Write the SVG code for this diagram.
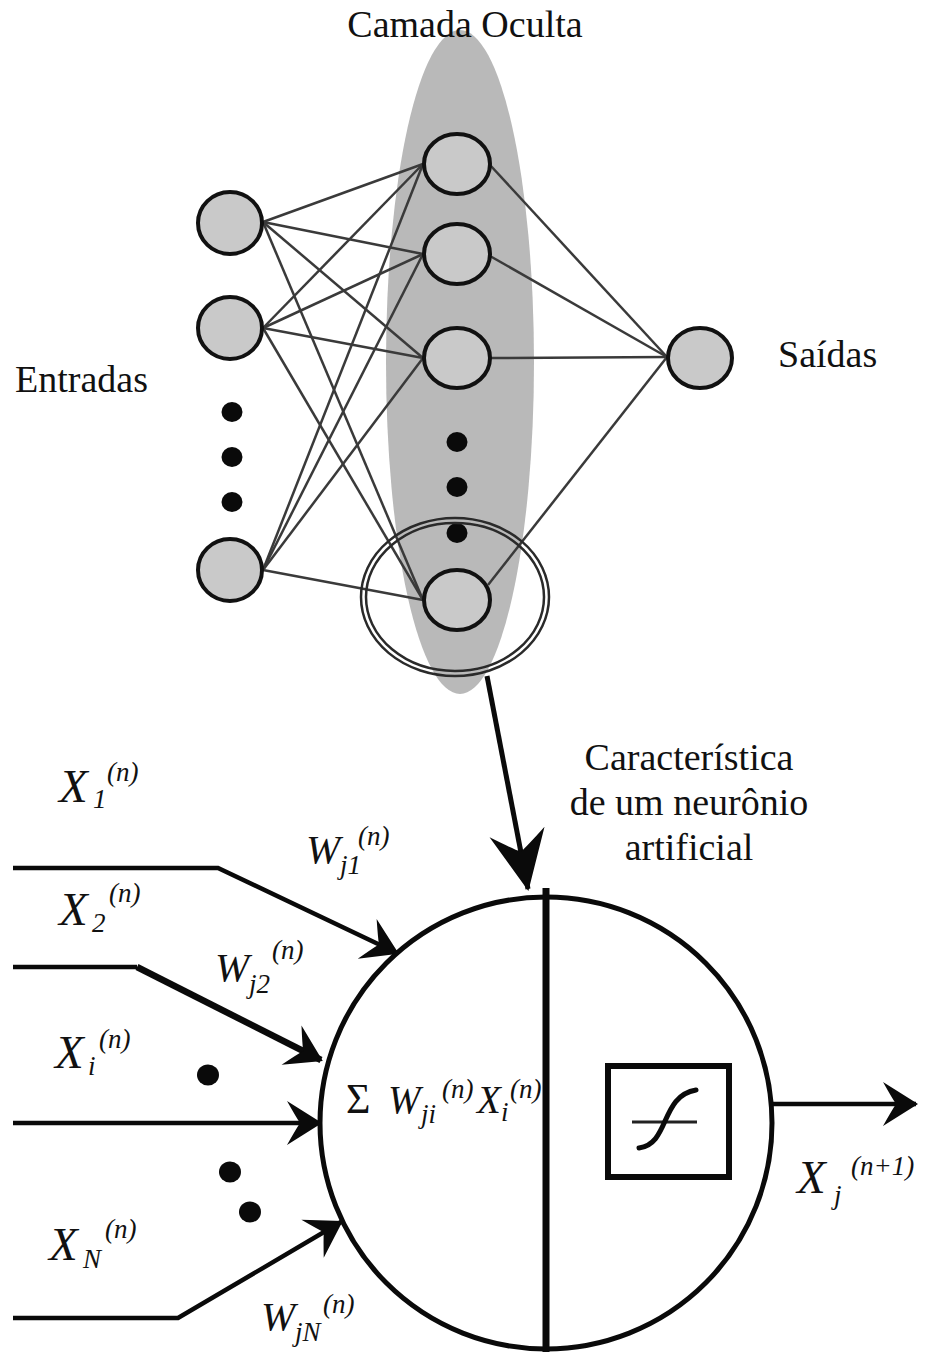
<svg xmlns="http://www.w3.org/2000/svg" width="927" height="1356" viewBox="0 0 927 1356">
<style>
.lbl{font-family:'Liberation Serif','DejaVu Serif',serif;fill:#111;font-size:38px}
.m{font-family:'Liberation Serif','DejaVu Serif',serif;fill:#111;font-style:italic}
.big{font-size:47px}
.mid{font-size:41px}
.sm{font-size:27px}
.edge{stroke:#3a3a3a;stroke-width:2.5;fill:none}
.node{fill:#c9c9c9;stroke:#111;stroke-width:4}
.dot{fill:#0a0a0a}
.wire{stroke:#0a0a0a;stroke-width:4.5;fill:none;stroke-linejoin:miter}
</style>
<defs>
<marker id="ah" markerUnits="userSpaceOnUse" orient="auto" overflow="visible" refX="0" refY="0" markerWidth="1" markerHeight="1">
<path d="M2,0 L-33,-22 Q-24,-6 -20,0 Q-24,6 -33,22 Z" fill="#0a0a0a"/>
</marker>
<marker id="ahb" markerUnits="userSpaceOnUse" orient="auto" overflow="visible" refX="0" refY="0" markerWidth="1" markerHeight="1">
<path d="M2,0 L-58,-28 Q-42,-7 -38,0 Q-42,7 -58,28 Z" fill="#0a0a0a"/>
</marker>
</defs>
<rect width="927" height="1356" fill="#ffffff"/>

<g id="hidden-layer-bg">
<ellipse cx="460" cy="362" rx="74" ry="332" fill="#b9b9b9"/>
</g>

<g id="connectors">
<g class="edge">
<line x1="263" y1="222" x2="423" y2="164"/>
<line x1="263" y1="222" x2="423" y2="254"/>
<line x1="263" y1="222" x2="423" y2="358"/>
<line x1="263" y1="222" x2="423" y2="600"/>
<line x1="263" y1="328" x2="423" y2="164"/>
<line x1="263" y1="328" x2="423" y2="254"/>
<line x1="263" y1="328" x2="423" y2="358"/>
<line x1="263" y1="328" x2="423" y2="600"/>
<line x1="263" y1="570" x2="423" y2="164"/>
<line x1="263" y1="570" x2="423" y2="254"/>
<line x1="263" y1="570" x2="423" y2="358"/>
<line x1="263" y1="570" x2="423" y2="600"/>
<line x1="490" y1="165" x2="667" y2="357"/>
<line x1="490" y1="256" x2="667" y2="357"/>
<line x1="490" y1="358" x2="667" y2="357"/>
<line x1="488" y1="585" x2="667" y2="357"/>
</g>
<line x1="487" y1="676" x2="528" y2="889" stroke="#0a0a0a" stroke-width="5" marker-end="url(#ahb)"/>
<polyline class="wire" points="13,868 218,868 397,953" marker-end="url(#ah)"/>
<polyline class="wire" points="13,967 137,967"/>
<line x1="137" y1="967" x2="321" y2="1060" stroke="#0a0a0a" stroke-width="6.5" marker-end="url(#ah)"/>
<line class="wire" x1="13" y1="1123" x2="320" y2="1123" marker-end="url(#ah)"/>
<polyline class="wire" points="13,1318 178,1318 341,1222" marker-end="url(#ah)"/>
<line class="wire" x1="772" y1="1104" x2="916" y2="1104" marker-end="url(#ah)"/>
</g>

<g id="input-nodes">
<ellipse class="node" cx="230" cy="223" rx="32" ry="31"/>
<ellipse class="node" cx="230" cy="328" rx="32" ry="31"/>
<ellipse class="node" cx="230" cy="570" rx="32" ry="31"/>
<ellipse class="dot" cx="232" cy="412" rx="10.5" ry="10"/>
<ellipse class="dot" cx="232" cy="457" rx="10.5" ry="10"/>
<ellipse class="dot" cx="232" cy="502" rx="10.5" ry="10"/>
</g>

<g id="hidden-nodes">
<ellipse class="node" cx="457" cy="164" rx="33" ry="30"/>
<ellipse class="node" cx="457" cy="254" rx="33" ry="30"/>
<ellipse class="node" cx="457" cy="358" rx="33" ry="30"/>
<ellipse class="node" cx="457" cy="600" rx="33" ry="30"/>
<ellipse class="dot" cx="457" cy="442" rx="10.5" ry="10"/>
<ellipse class="dot" cx="457" cy="487" rx="10.5" ry="10"/>
<ellipse class="dot" cx="457" cy="533" rx="10.5" ry="10"/>
</g>

<g id="output-node">
<ellipse class="node" cx="700" cy="358" rx="32" ry="30"/>
</g>

<g id="highlight-ring" fill="none" stroke="#2a2a2a" stroke-width="2.5">
<ellipse cx="455" cy="597" rx="94" ry="79"/>
<ellipse cx="455" cy="597" rx="89" ry="74"/>
</g>

<g id="labels-top">
<text class="lbl" x="465" y="37" text-anchor="middle">Camada Oculta</text>
<text class="lbl" x="15" y="392">Entradas</text>
<text class="lbl" x="778" y="367">Saídas</text>
<text class="lbl" x="689" y="770" text-anchor="middle">Característica</text>
<text class="lbl" x="689" y="815" text-anchor="middle">de um neurônio</text>
<text class="lbl" x="689" y="860" text-anchor="middle">artificial</text>
</g>

<g id="neuron">
<circle cx="546" cy="1123" r="226" fill="none" stroke="#0a0a0a" stroke-width="5"/>
<text class="lbl" x="346" y="1113" style="font-size:42px">Σ</text>
<text class="m" x="388" y="1113" style="font-size:39px">W</text>
<text class="m sm" x="421" y="1123">ji</text>
<text class="m sm" x="442" y="1098">(n)</text>
<text class="m" x="477" y="1113" style="font-size:39px">X</text>
<text class="m sm" x="501" y="1121">i</text>
<text class="m sm" x="510" y="1098">(n)</text>
<line x1="546" y1="888" x2="546" y2="1352" stroke="#0a0a0a" stroke-width="7"/>
<rect x="608" y="1066" width="121" height="111" fill="none" stroke="#0a0a0a" stroke-width="6"/>
<line x1="632" y1="1122" x2="697" y2="1122" stroke="#222" stroke-width="3"/>
<path d="M639,1148 C670,1144 660,1096 696,1090" fill="none" stroke="#0a0a0a" stroke-width="5" stroke-linecap="round"/>
</g>

<g id="input-dots">
<ellipse class="dot" cx="208" cy="1075" rx="11" ry="10.5"/>
<ellipse class="dot" cx="230" cy="1172" rx="11" ry="10.5"/>
<ellipse class="dot" cx="250" cy="1212" rx="11" ry="10.5"/>
</g>

<g id="math-labels">
<text class="m big" x="59" y="802">X</text><text class="m sm" x="93" y="808">1</text><text class="m sm" x="107" y="781">(n)</text>
<text class="m big" x="59" y="925">X</text><text class="m sm" x="92" y="932">2</text><text class="m sm" x="109" y="902">(n)</text>
<text class="m mid" x="306" y="863">W</text><text class="m sm" x="340" y="874">j1</text><text class="m sm" x="358" y="845">(n)</text>
<text class="m mid" x="215" y="981">W</text><text class="m sm" x="249" y="993">j2</text><text class="m sm" x="272" y="959">(n)</text>
<text class="m big" x="55" y="1068">X</text><text class="m sm" x="88" y="1075">i</text><text class="m sm" x="99" y="1048">(n)</text>
<text class="m big" x="49" y="1260">X</text><text class="m sm" x="83" y="1268">N</text><text class="m sm" x="105" y="1238">(n)</text>
<text class="m mid" x="261" y="1330">W</text><text class="m sm" x="295" y="1341">jN</text><text class="m sm" x="323" y="1313">(n)</text>
<text class="m big" x="797" y="1193">X</text><text class="m sm" x="834" y="1204">j</text><text class="m sm" x="851" y="1175">(n+1)</text>
</g>
</svg>
